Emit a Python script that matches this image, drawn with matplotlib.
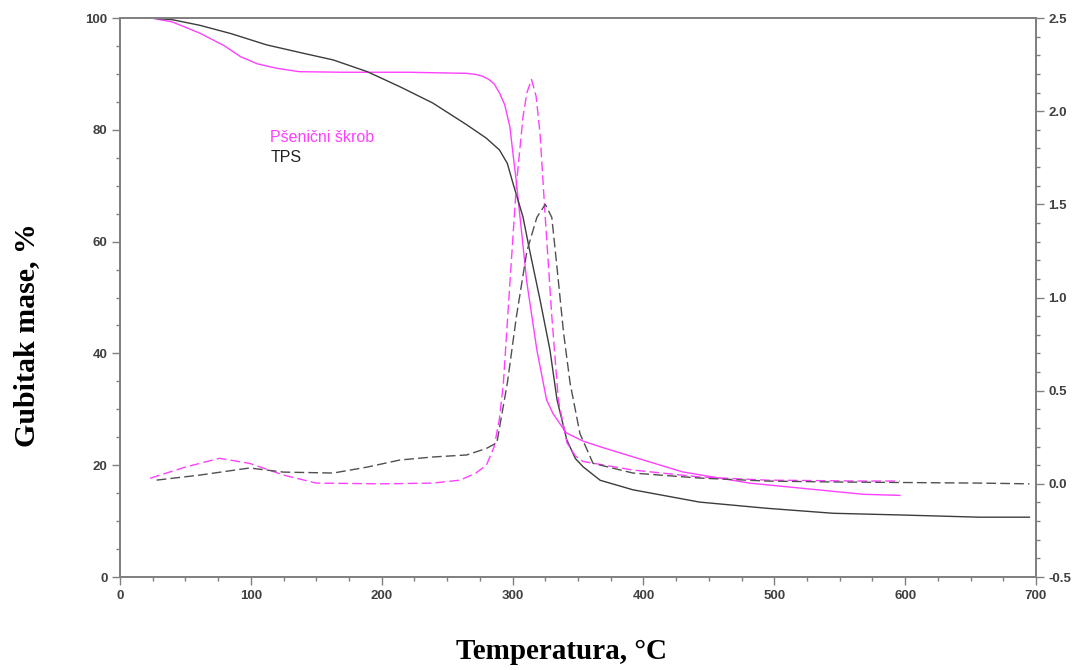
import matplotlib.pyplot as plt
from matplotlib.ticker import MultipleLocator, FormatStrFormatter

# TGA - wheat starch (mass, %)
t_starch = [24, 40, 61, 80, 92, 105, 120, 137, 170, 220, 265, 272, 277, 282, 286, 290, 294, 298, 300, 303,
            305.7, 311, 318.6, 326, 331, 336, 341, 354, 367, 392, 430, 481, 520, 568, 596]
m_starch = [100, 99.3, 97.3, 95.0, 93.1, 91.8, 91.0, 90.4, 90.3, 90.3, 90.1, 89.9, 89.6, 89.0, 88.2, 86.6, 84.5,
            80.5, 76.4, 70.5, 64.4, 52.6, 40.6, 31.7, 29.2, 27.5, 25.8, 24.3, 23.3, 21.5, 18.8, 16.8, 15.9, 14.8, 14.6]

# TGA - TPS (mass, %)
t_tps = [23, 40, 61, 85, 112, 140, 163, 189, 214, 239, 265, 280, 290, 296, 300.5, 308, 313, 321,
         328.6, 334, 341.5, 348, 354, 367, 392, 443, 494, 545, 596, 657, 695]
m_tps = [100, 99.7, 98.7, 97.2, 95.2, 93.7, 92.5, 90.4, 87.7, 84.8, 80.9, 78.5, 76.4, 74.0, 70.3,
         64.4, 58.5, 49.6, 40.6, 31.7, 24.5, 21.2, 19.7, 17.3, 15.6, 13.4, 12.3, 11.4, 11.1, 10.7, 10.7]

# DTG - wheat starch (right axis)
td_starch = [23, 50, 76, 99, 125, 150, 200, 239, 260, 272, 280, 286, 290, 293, 298, 303, 308, 311,
             314.5, 318, 321, 325, 330, 335, 341.6, 348, 354, 392, 443, 494, 565, 596]
d_starch = [0.03, 0.09, 0.137, 0.11, 0.047, 0.004, 0.0, 0.004, 0.02, 0.058, 0.10, 0.20, 0.35, 0.54,
            1.08, 1.61, 1.97, 2.10, 2.17, 2.08, 1.88, 1.43, 0.90, 0.45, 0.22, 0.15, 0.12, 0.074,
            0.037, 0.02, 0.015, 0.015]

# DTG - TPS (right axis)
td_tps = [28, 61, 99, 125, 163, 189, 214, 239, 265, 280, 288, 296, 303, 311, 318.6, 325, 330, 334,
          339, 344, 351.5, 361.5, 392, 443, 494, 545, 657, 695]
d_tps = [0.02, 0.047, 0.085, 0.063, 0.058, 0.09, 0.128, 0.144, 0.155, 0.19, 0.22, 0.54, 0.9, 1.25,
         1.43, 1.5, 1.43, 1.16, 0.81, 0.54, 0.27, 0.11, 0.058, 0.031, 0.015, 0.01, 0.004, 0.0]

pink = '#ff40ff'
dark = '#3c3c3c'
grey = '#808080'
tickc = '#404040'

fig = plt.figure(figsize=(10.77, 6.70), dpi=100)
ax = fig.add_axes([0.1114, 0.1388, 0.8505, 0.8343])
ax2 = ax.twinx()

ax.plot(t_starch, m_starch, color=pink, lw=1.0)
ax.plot(t_tps, m_tps, color=dark, lw=1.0)
ax2.plot(td_starch, d_starch, color=pink, lw=1.0, dashes=(7, 3))
ax2.plot(td_tps, d_tps, color='#505050', lw=1.0, dashes=(7, 3))

ax.set_xlim(0, 700)
ax.set_ylim(0, 100)
ax2.set_ylim(-0.5, 2.5)

ax.xaxis.set_major_locator(MultipleLocator(100))
ax.xaxis.set_minor_locator(MultipleLocator(25))
ax.yaxis.set_major_locator(MultipleLocator(20))
ax.yaxis.set_minor_locator(MultipleLocator(5))
ax2.yaxis.set_major_locator(MultipleLocator(0.5))
ax2.yaxis.set_minor_locator(MultipleLocator(0.1))
ax2.yaxis.set_major_formatter(FormatStrFormatter('%.1f'))

for a in (ax, ax2):
    for s in a.spines.values():
        s.set_color(grey)
        s.set_linewidth(1.3)
    a.tick_params(which='major', length=6, width=1, color=grey, labelsize=9.5,
                  labelcolor=tickc, pad=3)
    a.tick_params(which='minor', length=3, width=1, color=grey)

for lab in ax.get_xticklabels() + ax.get_yticklabels() + ax2.get_yticklabels():
    lab.set_fontfamily('Liberation Sans')
    lab.set_fontweight('bold')

ax.text(0.164, 0.787, 'Pšenični škrob', transform=ax.transAxes, color=pink,
        fontsize=11.5, family='Liberation Sans', va='center')
ax.text(0.164, 0.751, 'TPS', transform=ax.transAxes, color='#222222',
        fontsize=11.5, family='Liberation Sans', va='center')

fig.text(0.025, 0.50, 'Gubitak mase, %', rotation=90, ha='center', va='center',
         fontsize=21.5, fontweight='bold', family='Liberation Serif')
fig.text(0.521, 0.027, 'Temperatura, °C', ha='center', va='center',
         fontsize=21, fontweight='bold', family='Liberation Serif')

fig.savefig('out.png', dpi=100)
